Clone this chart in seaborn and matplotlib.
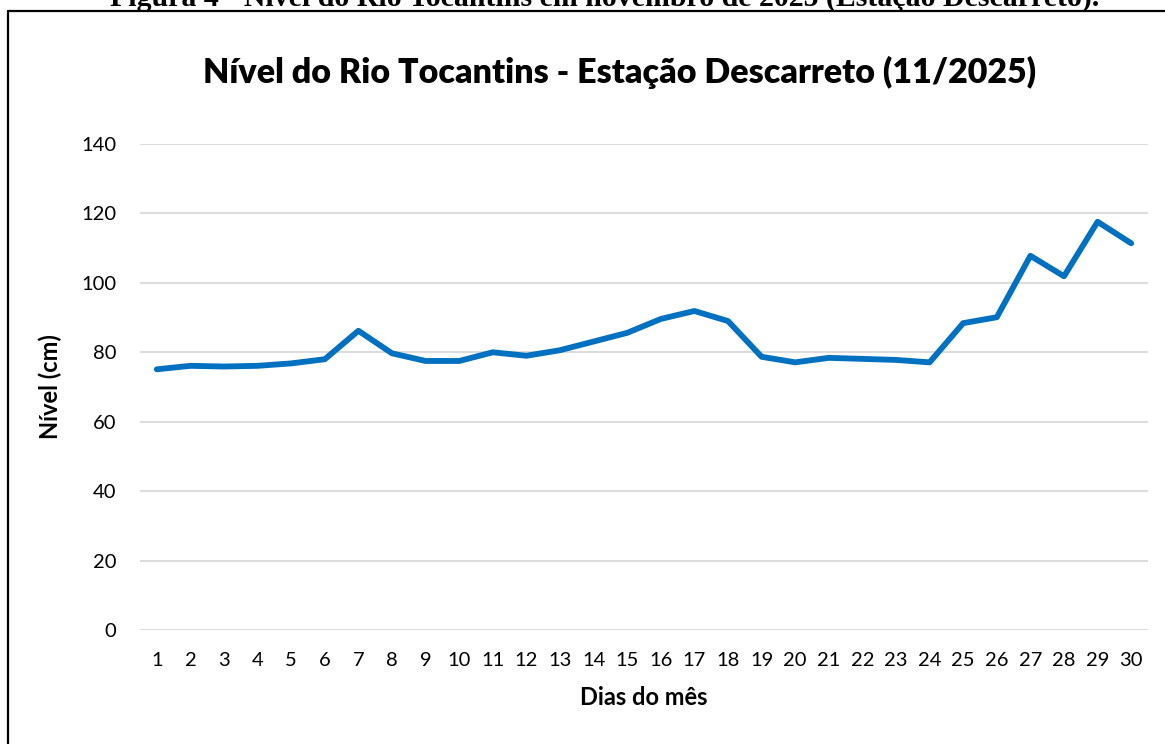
import pandas as pd
import numpy as np
import matplotlib.pyplot as plt
from matplotlib.lines import Line2D
import seaborn as sns

# Daily river level readings (cm), November 2025
days = list(range(1, 31))
nivel = [75.1, 76.1, 75.9, 76.1, 76.8, 78.0, 86.2, 79.7, 77.5, 77.5,
         80.0, 79.0, 80.6, 83.1, 85.6, 89.6, 91.9, 89.0, 78.7, 77.1,
         78.4, 78.1, 77.8, 77.1, 88.4, 90.1, 107.8, 101.9, 117.6, 111.4]
y_ticks = [0, 20, 40, 60, 80, 100, 120, 140]

df = pd.DataFrame({'Dia': days, 'Nivel': nivel})

sns.set_style('white')
plt.rcParams['font.family'] = ['Lato', 'DejaVu Sans']
plt.rcParams['text.color'] = 'black'
plt.rcParams['axes.labelcolor'] = 'black'

fig = plt.figure(figsize=(11.65, 7.44), dpi=100)
ax = fig.add_axes([140 / 1165, 1 - 630 / 744, 1008 / 1165, 486 / 744])

sns.lineplot(data=df, x='Dia', y='Nivel', ax=ax, color='#0070C0',
             linewidth=4.2, solid_capstyle='round', solid_joinstyle='round')

ax.set_xlim(0.5, 30.5)
ax.set_ylim(0, 140)
ax.set_xticks(days)
ax.set_xticklabels([str(d) for d in days])
ax.set_yticks(y_ticks)
ax.grid(axis='y', color='#D9D9D9', linewidth=1.3)
ax.set_axisbelow(True)
for s in ax.spines.values():
    s.set_visible(False)
ax.tick_params(axis='both', length=0, labelsize=14.5, colors='black')
ax.tick_params(axis='y', pad=17)
ax.tick_params(axis='x', pad=16)

ax.set_xlabel('Dias do mês', fontsize=17, fontweight='bold', labelpad=12)
ax.set_ylabel('Nível (cm)', fontsize=17, fontweight='bold', labelpad=14)

fig.text(620 / 1165, 1 - 72 / 744, 'Nível do Rio Tocantins - Estação Descarreto (11/2025)',
         ha='center', va='center', fontsize=24.5, fontweight='heavy')

# caption above the chart frame (cut off by the page edge)
fig.text(605 / 1165, 1 - 6 / 744,
         'Figura 4 - Nível do Rio Tocantins em novembro de 2025 (Estação Descarreto).',
         ha='center', va='baseline', fontsize=21.5, fontweight='bold',
         family='Liberation Serif')

# chart frame (left and top edges visible)
fig.add_artist(Line2D([8 / 1165, 8 / 1165], [0, 1 - 11 / 744], color='black', linewidth=1.6,
                      transform=fig.transFigure))
fig.add_artist(Line2D([8 / 1165, 1], [1 - 11 / 744, 1 - 11 / 744], color='black', linewidth=1.6,
                      transform=fig.transFigure))

fig.savefig('out.png', dpi=100)
